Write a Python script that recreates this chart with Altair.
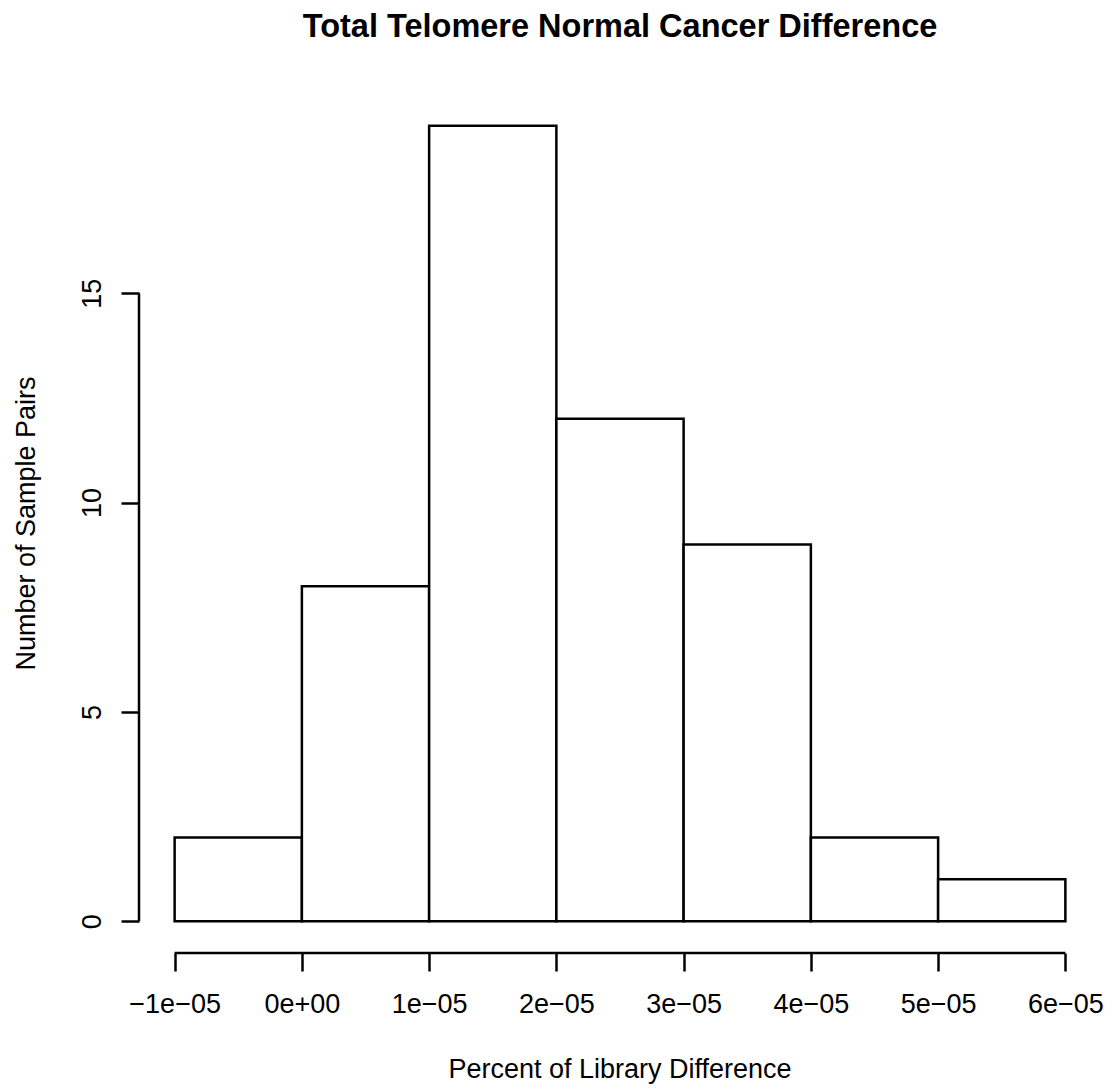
import altair as alt
import pandas as pd

# Histogram data
bin_starts = [-1e-05, 0.0, 1e-05, 2e-05, 3e-05, 4e-05, 5e-05]
bin_ends = [0.0, 1e-05, 2e-05, 3e-05, 4e-05, 5e-05, 6e-05]
counts = [2, 8, 19, 12, 9, 2, 1]

x_ticks = [-1e-05, 0.0, 1e-05, 2e-05, 3e-05, 4e-05, 5e-05, 6e-05]
x_tick_labels = ["\u22121e\u221205", "0e+00", "1e\u221205", "2e\u221205",
                 "3e\u221205", "4e\u221205", "5e\u221205", "6e\u221205"]
y_ticks = [0, 5, 10, 15]

title_text = "Total Telomere Normal Cancer Difference"
x_title = "Percent of Library Difference"
y_title = "Number of Sample Pairs"

FONT = "Liberation Sans"
W, H = 962, 859
LW = 2.5

df = pd.DataFrame({"start": bin_starts, "end": bin_ends, "count": counts})

label_expr = "[" + ",".join('"%s"' % s for s in x_tick_labels) + "][round(datum.value*100000)+1]"

xscale = alt.Scale(domain=[-1.28e-05, 6.28e-05], nice=False, zero=False)
yscale = alt.Scale(domain=[-0.76, 19.76], nice=False, zero=False)

xaxis = alt.Axis(values=x_ticks, domain=False, grid=False, ticks=True, tickSize=18,
                 tickWidth=LW, tickColor="black", labelFont=FONT, labelFontSize=27,
                 labelColor="black", labelPadding=41, labelBaseline="alphabetic",
                 labelAlign="center", labelExpr=label_expr, title=None,
                 labelOverlap=False, labelFlush=False)
yaxis = alt.Axis(values=y_ticks, domain=False, grid=False, ticks=True, tickSize=18,
                 tickWidth=LW, tickColor="black", labelFont=FONT, labelFontSize=27,
                 labelColor="black", labelPadding=21, labelAngle=270,
                 labelBaseline="alphabetic", labelAlign="center", title=None,
                 labelOverlap=False, labelFlush=False)

bars = alt.Chart(df).mark_rect(fill="white", stroke="black", strokeWidth=LW).encode(
    x=alt.X("start:Q", scale=xscale, axis=xaxis),
    x2="end:Q",
    y=alt.Y("zero:Q", scale=yscale, axis=yaxis),
    y2="count:Q",
).transform_calculate(zero="0")

yline = alt.Chart(pd.DataFrame({"a": [y_ticks[0]], "b": [y_ticks[-1]]})).mark_rule(
    color="black", strokeWidth=LW).encode(
    x=alt.value(0), y=alt.Y("a:Q", scale=yscale), y2="b:Q")
xline = alt.Chart(pd.DataFrame({"a": [x_ticks[0]], "b": [x_ticks[-1]]})).mark_rule(
    color="black", strokeWidth=LW).encode(
    y=alt.value(H), x=alt.X("a:Q", scale=xscale), x2="b:Q")

title = alt.Chart(pd.DataFrame({"t": [title_text]})).mark_text(
    font=FONT, fontSize=32.5, fontWeight="bold", color="black",
    align="center", baseline="alphabetic").encode(
    text="t:N", x=alt.value(W / 2), y=alt.value(37 - 94))
xt = alt.Chart(pd.DataFrame({"t": [x_title]})).mark_text(
    font=FONT, fontSize=27, color="black", align="center", baseline="alphabetic").encode(
    text="t:N", x=alt.value(W / 2), y=alt.value(1078 - 94))
yt = alt.Chart(pd.DataFrame({"t": [y_title]})).mark_text(
    font=FONT, fontSize=27, color="black", align="center", baseline="alphabetic",
    angle=270).encode(
    text="t:N", x=alt.value(35 - 139), y=alt.value(H / 2))

chart = alt.layer(bars, yline, xline, title, xt, yt).properties(
    width=W, height=H,
    autosize=alt.AutoSizeParams(type="none"),
    padding={"left": 139, "top": 94, "right": 12, "bottom": 136},
    background="white",
).configure_view(stroke=None)

chart.save("out.html", embed_options={"renderer": "svg", "actions": False})
